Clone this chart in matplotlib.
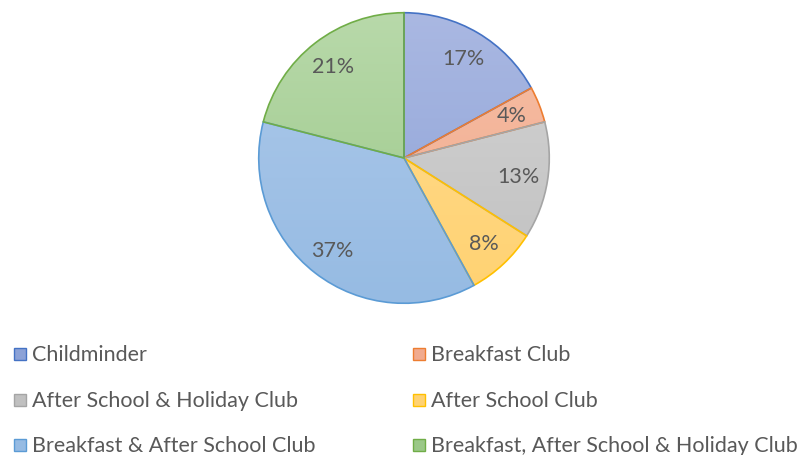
import matplotlib

matplotlib.use("Agg")
import matplotlib.pyplot as plt
import numpy as np
from matplotlib.colors import LinearSegmentedColormap
from matplotlib.patches import Rectangle

labels = [
    "Childminder",
    "Breakfast Club",
    "After School & Holiday Club",
    "After School Club",
    "Breakfast & After School Club",
    "Breakfast, After School & Holiday Club",
]
shares = [17, 4, 13, 8, 37, 21]

# (top of gradient, bottom of gradient, outline)
light = ["#aab8e2", "#f6bea4", "#d4d4d4", "#ffdc90", "#adc9ea", "#b8d9aa"]
dark = ["#8ca2d7", "#f1ab8f", "#c0c0c0", "#ffd272", "#96bbe3", "#9bc888"]
edges = ["#4472c4", "#ed7d31", "#a5a5a5", "#ffc000", "#5b9bd5", "#70ad47"]

plt.rcParams["font.family"] = ["Lato", "DejaVu Sans"]

W, H = 805, 456
fig = plt.figure(figsize=(W / 100, H / 100), dpi=100)

cx, cy, r = 404, 159, 146
ax = fig.add_axes([(cx - r) / W, (H - cy - r) / H, 2 * r / W, 2 * r / H])

wedges, _, autotexts = ax.pie(
    shares,
    startangle=90,
    counterclock=False,
    colors=dark,
    autopct="%1.0f%%",
    pctdistance=0.8,
    wedgeprops=dict(edgecolor="none", linewidth=0),
    textprops=dict(color="#595959", fontsize=15.5),
)

# vertical gradient fill clipped to each slice, then the outline on top
grad = np.linspace(0, 1, 256).reshape(-1, 1)
for w, lo, hi, ec in zip(wedges, light, dark, edges):
    cmap = LinearSegmentedColormap.from_list("g", [lo, hi])
    im = ax.imshow(grad, cmap=cmap, extent=(-1, 1, -1, 1), origin="upper",
                   aspect="auto", zorder=w.get_zorder())
    im.set_clip_path(w)
    w.set_facecolor("none")
    w.set_edgecolor(ec)
    w.set_linewidth(1.2)
    w.set_zorder(w.get_zorder() + 0.5)
for t in autotexts:
    t.set_zorder(10)

ax.set_xlim(-1.005, 1.005)
ax.set_ylim(-1.005, 1.005)
ax.set_aspect("equal")
ax.axis("off")

# legend: two columns, three rows, Excel style
col_x = [14, 413]
row_y = [355, 401, 446]
box = 12
for i, lab in enumerate(labels):
    x = col_x[i % 2]
    y = row_y[i // 2]
    fig.patches.append(Rectangle((x / W, (H - y - box / 2) / H), box / W, box / H,
                                 transform=fig.transFigure, facecolor=dark[i],
                                 edgecolor=edges[i], linewidth=1.0))
    fig.text((x + box + 6) / W, (H - y) / H, lab, fontsize=15.5, color="#595959",
             va="center", ha="left")

fig.savefig("out.png", dpi=100)
